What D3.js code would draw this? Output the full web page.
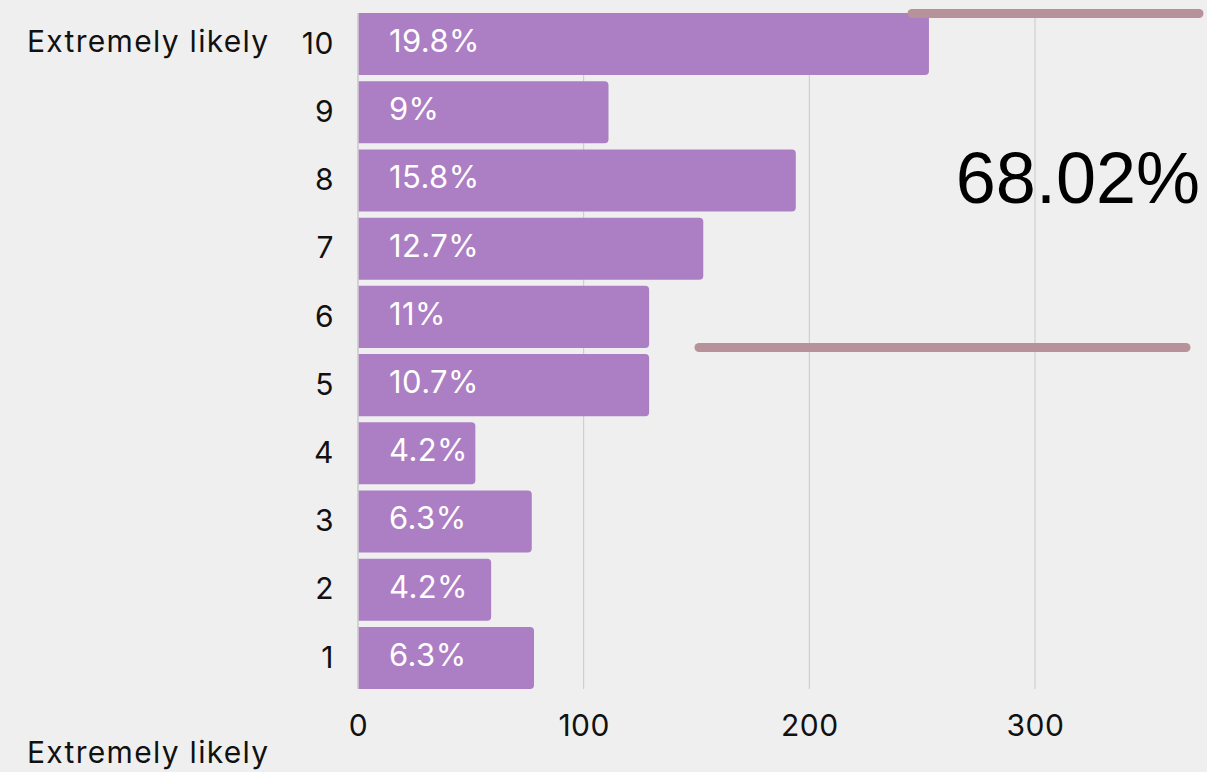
<!DOCTYPE html>
<html>
<head>
<meta charset="utf-8">
<script src="https://cdn.jsdelivr.net/npm/d3@7"></script>
<style>
  body { margin: 0; background: #efefef; }
  text { font-family: "Inter", "Roboto", sans-serif; }
</style>
</head>
<body>
<div id="chart-area"></div>
<script>
const categories = ["10", "9", "8", "7", "6", "5", "4", "3", "2", "1"]
const counts = [253, 111, 194, 153, 129, 129, 52, 77, 59, 78]
const percents = ["19.8%", "9%", "15.8%", "12.7%", "11%", "10.7%", "4.2%", "6.3%", "4.2%", "6.3%"]
const xTicks = [0, 100, 200, 300]
const bigValue = "68.02%"
const sideLabel = "Extremely likely"

const WIDTH = 1207
const HEIGHT = 772
const PLOT = { LEFT: 358, TOP: 13, BOTTOM: 689 }

const svg = d3.select("#chart-area").append("svg")
  .attr("width", WIDTH)
  .attr("height", HEIGHT)

svg.append("rect")
  .attr("width", WIDTH)
  .attr("height", HEIGHT)
  .attr("fill", "#efefef")

const x = d3.scaleLinear()
  .domain([0, 300])
  .range([PLOT.LEFT, 1035])

const y = d3.scaleBand()
  .domain(categories)
  .range([PLOT.TOP, PLOT.BOTTOM])
  .paddingInner(0.09)
  .paddingOuter(0)

// gridlines
svg.append("g")
  .selectAll("line")
  .data(xTicks)
  .enter().append("line")
  .attr("x1", d => x(d))
  .attr("x2", d => x(d))
  .attr("y1", PLOT.TOP)
  .attr("y2", PLOT.BOTTOM)
  .attr("stroke", "#c9c9c9")
  .attr("stroke-width", 1)

// x axis labels
const xAxisCall = d3.axisBottom(x)
  .tickValues(xTicks)
  .tickSize(0)
  .tickPadding(26)
const xAxis = svg.append("g")
  .attr("transform", `translate(0, ${PLOT.BOTTOM})`)
  .call(xAxisCall)
xAxis.select(".domain").remove()
xAxis.selectAll("text")
  .attr("font-size", 30)
  .attr("fill", "#111")
  .style("font-family", "Inter, Roboto, sans-serif")
  .style("letter-spacing", "0.5px")

// y axis labels
const yAxisCall = d3.axisLeft(y)
  .tickSize(0)
  .tickPadding(24)
const yAxis = svg.append("g")
  .attr("transform", `translate(${PLOT.LEFT}, 0)`)
  .call(yAxisCall)
yAxis.select(".domain").remove()
yAxis.selectAll("text")
  .attr("font-size", 30)
  .attr("fill", "#111")
  .style("font-family", "Inter, Roboto, sans-serif")
  .style("letter-spacing", "0.5px")

// bars, rounded on the right side only
const r = 4
const barPath = d => {
  const x0 = x(0), x1 = x(d.value), y0 = y(d.cat), h = y.bandwidth()
  return `M${x0},${y0}H${x1 - r}Q${x1},${y0} ${x1},${y0 + r}` +
    `V${y0 + h - r}Q${x1},${y0 + h} ${x1 - r},${y0 + h}H${x0}Z`
}
const data = categories.map((c, i) => ({ cat: c, value: counts[i], pct: percents[i] }))

svg.append("g")
  .selectAll("path")
  .data(data)
  .enter().append("path")
  .attr("d", barPath)
  .attr("fill", "#ac7ec3")

// axis line at zero
svg.append("line")
  .attr("x1", x(0)).attr("x2", x(0))
  .attr("y1", PLOT.TOP).attr("y2", PLOT.BOTTOM)
  .attr("stroke", "#cfcfcf")
  .attr("stroke-width", 1.5)

// value labels
svg.append("g")
  .selectAll("text")
  .data(data)
  .enter().append("text")
  .attr("x", x(0) + 31)
  .attr("y", d => y(d.cat) + y.bandwidth() / 2 - 3)
  .attr("dy", "0.35em")
  .attr("font-size", 31)
  .attr("fill", "#fff")
  .style("letter-spacing", "0.4px")
  .text(d => d.pct)

// side labels
svg.append("text")
  .attr("x", 27).attr("y", 52)
  .attr("font-size", 30)
  .attr("fill", "#111")
  .style("letter-spacing", "1.3px")
  .text(sideLabel)
svg.append("text")
  .attr("x", 27).attr("y", 763)
  .attr("font-size", 30)
  .attr("fill", "#111")
  .style("letter-spacing", "1.3px")
  .text(sideLabel)

// highlight lines
svg.append("line")
  .attr("x1", 912).attr("x2", 1199)
  .attr("y1", 13.5).attr("y2", 13.5)
  .attr("stroke", "#b8929a")
  .attr("stroke-width", 9)
  .attr("stroke-linecap", "round")
svg.append("line")
  .attr("x1", 699).attr("x2", 1186)
  .attr("y1", 347.5).attr("y2", 347.5)
  .attr("stroke", "#b8929a")
  .attr("stroke-width", 9)
  .attr("stroke-linecap", "round")

// big value
svg.append("text")
  .attr("x", 1200).attr("y", 203)
  .attr("text-anchor", "end")
  .attr("font-size", 72)
  .attr("fill", "#000")
  .style("font-family", "Liberation Sans, Arial, sans-serif")
  .text(bigValue)
</script>
</body>
</html>
